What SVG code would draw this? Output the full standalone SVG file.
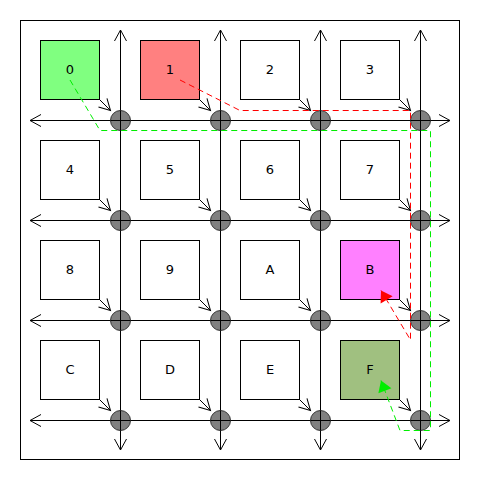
<svg xmlns="http://www.w3.org/2000/svg" width="490" height="490" viewBox="0 0 490 490">
<style>
.frame{fill:#fff;stroke:#000;stroke-width:1}
.sq{stroke:#000;stroke-width:1}
.lbl{font-family:"DejaVu Sans",sans-serif;font-size:13px;fill:#000;text-anchor:middle;dominant-baseline:central}
.axis{stroke:#000;stroke-width:1;fill:none;marker-start:url(#open);marker-end:url(#open)}
.link{stroke:#000;stroke-width:1;fill:none;marker-end:url(#open)}
.node{fill:#808080;stroke:#333;stroke-width:1}
.red{stroke:#ff0000;stroke-width:1;fill:none;stroke-dasharray:6,4;marker-end:url(#redhead)}
.green{stroke:#00ee00;stroke-width:1;fill:none;stroke-dasharray:6,4;marker-end:url(#greenhead)}
</style>
<defs>
<marker id="open" markerUnits="userSpaceOnUse" viewBox="-13 -8 15 16" markerWidth="15" markerHeight="16" refX="0" refY="0" orient="auto-start-reverse">
<path d="M-11,-6 L0,0 L-11,6" fill="none" stroke="#000" stroke-width="1"/>
</marker>
<marker id="redhead" markerUnits="userSpaceOnUse" viewBox="-13 -8 15 16" markerWidth="15" markerHeight="16" refX="0" refY="0" orient="auto">
<path d="M-11,-7 L0,0 L-11,7 Z" fill="#ff0000" stroke="none"/>
</marker>
<marker id="greenhead" markerUnits="userSpaceOnUse" viewBox="-13 -8 15 16" markerWidth="15" markerHeight="16" refX="0" refY="0" orient="auto">
<path d="M-11,-7 L0,0 L-11,7 Z" fill="#00ee00" stroke="none"/>
</marker>
</defs>
<rect width="490" height="490" fill="#fff"/>
<rect class="frame" x="20.5" y="20.5" width="439" height="439"/>

<g id="n0"><rect class="sq" x="40.5" y="40.5" width="59" height="59" fill="#80ff80"/><text class="lbl" x="70" y="69">0</text></g>
<g id="n1"><rect class="sq" x="140.5" y="40.5" width="59" height="59" fill="#ff8080"/><text class="lbl" x="170" y="69">1</text></g>
<g id="n2"><rect class="sq" x="240.5" y="40.5" width="59" height="59" fill="#fff"/><text class="lbl" x="270" y="69">2</text></g>
<g id="n3"><rect class="sq" x="340.5" y="40.5" width="59" height="59" fill="#fff"/><text class="lbl" x="370" y="69">3</text></g>
<g id="n4"><rect class="sq" x="40.5" y="140.5" width="59" height="59" fill="#fff"/><text class="lbl" x="70" y="169">4</text></g>
<g id="n5"><rect class="sq" x="140.5" y="140.5" width="59" height="59" fill="#fff"/><text class="lbl" x="170" y="169">5</text></g>
<g id="n6"><rect class="sq" x="240.5" y="140.5" width="59" height="59" fill="#fff"/><text class="lbl" x="270" y="169">6</text></g>
<g id="n7"><rect class="sq" x="340.5" y="140.5" width="59" height="59" fill="#fff"/><text class="lbl" x="370" y="169">7</text></g>
<g id="n8"><rect class="sq" x="40.5" y="240.5" width="59" height="59" fill="#fff"/><text class="lbl" x="70" y="269">8</text></g>
<g id="n9"><rect class="sq" x="140.5" y="240.5" width="59" height="59" fill="#fff"/><text class="lbl" x="170" y="269">9</text></g>
<g id="nA"><rect class="sq" x="240.5" y="240.5" width="59" height="59" fill="#fff"/><text class="lbl" x="270" y="269">A</text></g>
<g id="nB"><rect class="sq" x="340.5" y="240.5" width="59" height="59" fill="#ff80ff"/><text class="lbl" x="370" y="269">B</text></g>
<g id="nC"><rect class="sq" x="40.5" y="340.5" width="59" height="59" fill="#fff"/><text class="lbl" x="70" y="369">C</text></g>
<g id="nD"><rect class="sq" x="140.5" y="340.5" width="59" height="59" fill="#fff"/><text class="lbl" x="170" y="369">D</text></g>
<g id="nE"><rect class="sq" x="240.5" y="340.5" width="59" height="59" fill="#fff"/><text class="lbl" x="270" y="369">E</text></g>
<g id="nF"><rect class="sq" x="340.5" y="340.5" width="59" height="59" fill="#a0c080"/><text class="lbl" x="370" y="369">F</text></g>

<g id="connectors">
<line class="axis" x1="120.5" y1="30" x2="120.5" y2="450"/>
<line class="axis" x1="220.5" y1="30" x2="220.5" y2="450"/>
<line class="axis" x1="320.5" y1="30" x2="320.5" y2="450"/>
<line class="axis" x1="420.5" y1="30" x2="420.5" y2="450"/>
<line class="axis" x1="30" y1="120.5" x2="450" y2="120.5"/>
<line class="axis" x1="30" y1="220.5" x2="450" y2="220.5"/>
<line class="axis" x1="30" y1="320.5" x2="450" y2="320.5"/>
<line class="axis" x1="30" y1="420.5" x2="450" y2="420.5"/>
<line class="link" x1="100" y1="100" x2="110.5" y2="110.5"/>
<line class="link" x1="200" y1="100" x2="210.5" y2="110.5"/>
<line class="link" x1="300" y1="100" x2="310.5" y2="110.5"/>
<line class="link" x1="400" y1="100" x2="410.5" y2="110.5"/>
<line class="link" x1="100" y1="200" x2="110.5" y2="210.5"/>
<line class="link" x1="200" y1="200" x2="210.5" y2="210.5"/>
<line class="link" x1="300" y1="200" x2="310.5" y2="210.5"/>
<line class="link" x1="400" y1="200" x2="410.5" y2="210.5"/>
<line class="link" x1="100" y1="300" x2="110.5" y2="310.5"/>
<line class="link" x1="200" y1="300" x2="210.5" y2="310.5"/>
<line class="link" x1="300" y1="300" x2="310.5" y2="310.5"/>
<line class="link" x1="400" y1="300" x2="410.5" y2="310.5"/>
<line class="link" x1="100" y1="400" x2="110.5" y2="410.5"/>
<line class="link" x1="200" y1="400" x2="210.5" y2="410.5"/>
<line class="link" x1="300" y1="400" x2="310.5" y2="410.5"/>
<line class="link" x1="400" y1="400" x2="410.5" y2="410.5"/>
</g>
<g id="switches">
<circle class="node" cx="120.5" cy="120.5" r="10"/><circle class="node" cx="220.5" cy="120.5" r="10"/><circle class="node" cx="320.5" cy="120.5" r="10"/><circle class="node" cx="420.5" cy="120.5" r="10"/>
<circle class="node" cx="120.5" cy="220.5" r="10"/><circle class="node" cx="220.5" cy="220.5" r="10"/><circle class="node" cx="320.5" cy="220.5" r="10"/><circle class="node" cx="420.5" cy="220.5" r="10"/>
<circle class="node" cx="120.5" cy="320.5" r="10"/><circle class="node" cx="220.5" cy="320.5" r="10"/><circle class="node" cx="320.5" cy="320.5" r="10"/><circle class="node" cx="420.5" cy="320.5" r="10"/>
<circle class="node" cx="120.5" cy="420.5" r="10"/><circle class="node" cx="220.5" cy="420.5" r="10"/><circle class="node" cx="320.5" cy="420.5" r="10"/><circle class="node" cx="420.5" cy="420.5" r="10"/>
<path d="M110.5,120.5 H130.5 M120.5,110.5 V130.5 M210.5,120.5 H230.5 M220.5,110.5 V130.5 M310.5,120.5 H330.5 M320.5,110.5 V130.5 M410.5,120.5 H430.5 M420.5,110.5 V130.5 M110.5,220.5 H130.5 M120.5,210.5 V230.5 M210.5,220.5 H230.5 M220.5,210.5 V230.5 M310.5,220.5 H330.5 M320.5,210.5 V230.5 M410.5,220.5 H430.5 M420.5,210.5 V230.5 M110.5,320.5 H130.5 M120.5,310.5 V330.5 M210.5,320.5 H230.5 M220.5,310.5 V330.5 M310.5,320.5 H330.5 M320.5,310.5 V330.5 M410.5,320.5 H430.5 M420.5,310.5 V330.5 M110.5,420.5 H130.5 M120.5,410.5 V430.5 M210.5,420.5 H230.5 M220.5,410.5 V430.5 M310.5,420.5 H330.5 M320.5,410.5 V430.5 M410.5,420.5 H430.5 M420.5,410.5 V430.5" stroke="#000" stroke-width="1" fill="none"/>
</g>
<g id="routes">
<path class="red" d="M180,80 L240,110.5 L410.5,110.5 L410.5,340 L381,290.5"/>
<path class="green" d="M70,80 L100,130.5 L430.5,130.5 L430.5,430.5 L400,430.5 L381,380.5"/>
</g>
</svg>
